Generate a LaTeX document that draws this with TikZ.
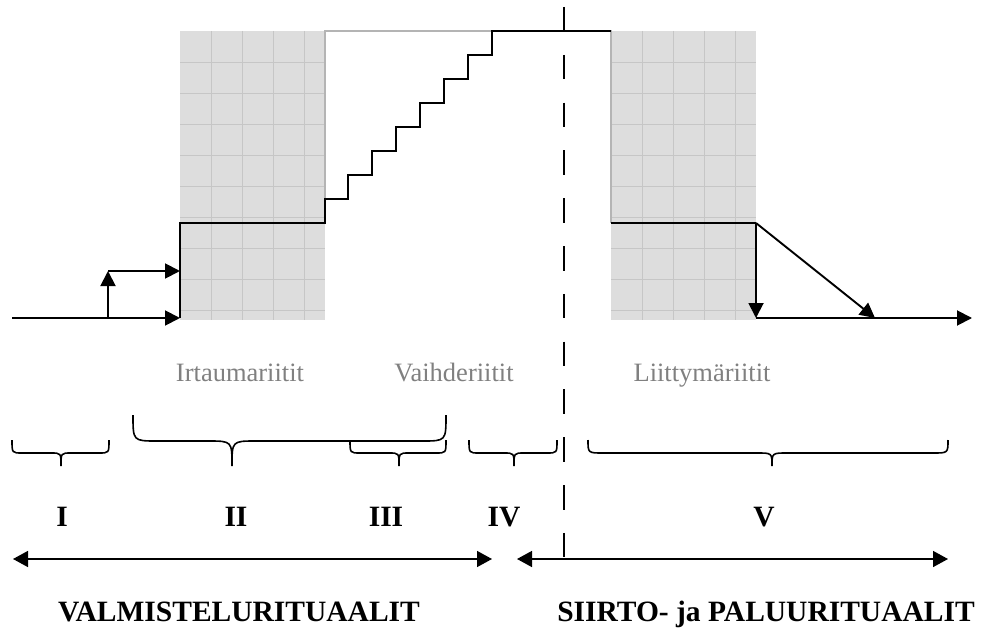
\documentclass[tikz,border=0pt]{standalone}
\usepackage{fontspec}
\setmainfont{Liberation Serif}
\usepackage{xcolor}
\usetikzlibrary{arrows.meta}

\definecolor{zonegray}{RGB}{221,221,221}
\definecolor{gridgray}{RGB}{198,198,198}
\definecolor{edgegray}{RGB}{180,180,180}
\definecolor{labelgray}{RGB}{128,128,128}

\newcommand{\downbrace}[7]{%
  \draw[bracepath] (#1,#4) .. controls (#1,#5) .. (#1+#7,#5) -- (#3-#7,#5)
    .. controls (#3,#5) .. (#3,#6) .. controls (#3,#5) .. (#3+#7,#5)
    -- (#2-#7,#5) .. controls (#2,#5) .. (#2,#4);}

\begin{document}
\begin{tikzpicture}[x=1pt,y=-1pt,
	heavy/.style = {line width=2.3pt},
	flow/.style = {line width=1.9pt, -{Triangle[length=15pt,width=15pt]}},
	span/.style = {line width=1.5pt, {Triangle[length=15pt,width=16pt]}-{Triangle[length=15pt,width=16pt]}},
	zone/.style = {fill=zonegray},
	gridline/.style = {draw=gridgray, line width=0.8pt},
	rim/.style = {draw=edgegray, line width=1.5pt},
	divider/.style = {line width=1.5pt, dash pattern=on 24.5pt off 23.3pt},
	bracepath/.style = {line width=1.6pt},
	ritelabel/.style = {text=labelgray, font=\fontsize{26.5}{30}\selectfont, anchor=base},
	phase/.style = {font=\bfseries\fontsize{29.5}{33}\selectfont, anchor=base}]
	\useasboundingbox (0,0) rectangle (981,628);
	% shaded zones
	\fill[zone] (180,31) rectangle (325,320);
	\fill[zone] (611,31) rectangle (756,320);
	\foreach \gx in {211,242,273,304,642,673,704,735}
		\draw[gridline] (\gx,31) -- (\gx,320);
	\foreach \gy in {62,93,...,310} {
		\draw[gridline] (180,\gy) -- (325,\gy);
		\draw[gridline] (611,\gy) -- (756,\gy);
	}
	\draw[rim] (325,223) -- (325,31) -- (611,31) -- (611,223);
	% points
	\coordinate (in) at (12,318);
	\coordinate (jump) at (108,318);
	\coordinate (jumptop) at (108,271);
	\coordinate (gatetop) at (180,271);
	\coordinate (gate) at (180,318);
	\coordinate (exit) at (756,223);
	\coordinate (drop) at (756,318);
	\coordinate (slide) at (875,318);
	\coordinate (out) at (972,318);
	% level line and stairs
	\draw[heavy] (gate) -- (180,223) -- (325,223) -- (325,199) -- (348,199)
		-- (348,175) -- (372,175) -- (372,151) -- (396,151) -- (396,127)
		-- (420,127) -- (420,103) -- (444,103) -- (444,79) -- (468,79)
		-- (468,55) -- (492,55) -- (492,31) -- (611,31);
	\draw[heavy] (611,223) -- (exit);
	\draw[flow] (in) -- (gate);
	\draw[flow] (jump) -- (jumptop);
	\draw[flow] (jumptop) -- (gatetop);
	\draw[flow] (exit) -- (drop);
	\draw[flow] (exit) -- (slide);
	\draw[flow] (drop) -- (out);
	% threshold
	\draw[divider] (564,7) -- (564,559);
	% rite labels
	\node[ritelabel] (irtauma) at (240,381) {Irtaumariitit};
	\node[ritelabel] (vaihde) at (454,381) {Vaihderiitit};
	\node[ritelabel] (liittyma) at (702,381) {Liittymäriitit};
	% braces
	\downbrace{12}{109}{61}{440}{453}{466}{10}
	\downbrace{133}{446}{232}{415}{441}{466}{24}
	\downbrace{350}{446}{399}{440}{453}{466}{10}
	\downbrace{469}{557}{514}{440}{453}{466}{10}
	\downbrace{588}{948}{772}{440}{453}{466}{15}
	% phases
	\node[phase] (ph1) at (62,526) {I};
	\node[phase] (ph2) at (236,526) {II};
	\node[phase] (ph3) at (386,526) {III};
	\node[phase] (ph4) at (504,526) {IV};
	\node[phase] (ph5) at (764,526) {V};
	\coordinate (prepL) at (13,559);
	\coordinate (prepR) at (492,559);
	\coordinate (passL) at (517,559);
	\coordinate (passR) at (948,559);
	\draw[span] (prepL) -- (prepR);
	\draw[span] (passL) -- (passR);
	\node[phase] (valm) at (239,621) {VALMISTELURITUAALIT};
	\node[phase] (siirto) at (766,621) {SIIRTO- ja PALUURITUAALIT};
\end{tikzpicture}
\end{document}
